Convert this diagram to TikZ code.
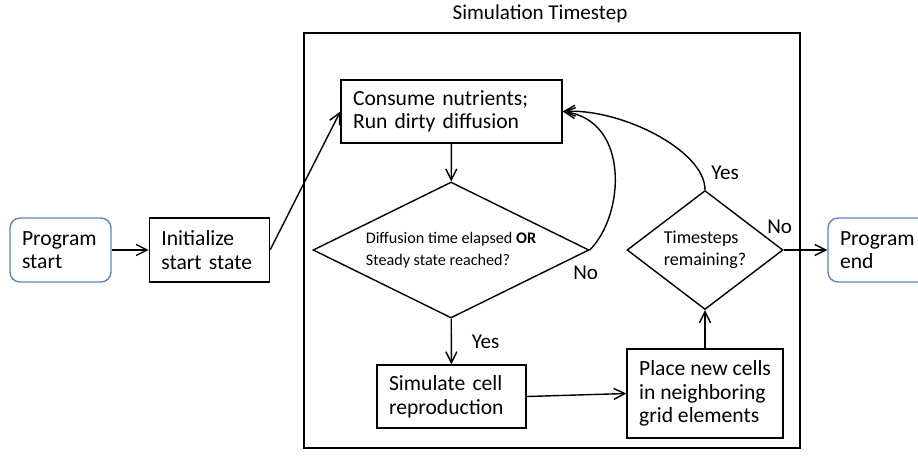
\documentclass[tikz,border=0pt]{standalone}
\usepackage{fontspec}
\setmainfont{Carlito}
\usetikzlibrary{shapes.geometric,positioning,calc,arrows.meta}
\definecolor{termblue}{RGB}{96,133,186}
\tikzset{BOX/.style={rectangle,draw,thick,align=left,inner xsep=0.24cm,inner ysep=0pt,font=\fontsize{12.3}{13.4}\selectfont}}
\tikzset{TERM/.style={BOX,draw=termblue,rounded corners=0.2cm,text width=1.54cm,minimum height=1.28cm}}
\tikzset{DECISION/.style={diamond,draw,thick,align=left,inner sep=0pt,font=\fontsize{9.2}{12.5}\selectfont}}
\tikzset{FRAME/.style={rectangle,draw,thick}}
\tikzset{LABEL/.style={font=\fontsize{12}{13.4}\selectfont}}
\tikzset{ARROW/.style={thick,-{Straight Barb[length=2.2mm,width=2.2mm]}}}

\begin{document}
\begin{tikzpicture}[x=0.02cm,y=-0.02cm]
\useasboundingbox (0,0) rectangle (918,458);

\node[FRAME,minimum width=9.92cm,minimum height=8.3cm] (n_frame) at (552,240.5) {};
\node[LABEL] (n_title) at (540,14) {Simulation Timestep};

\node[TERM] (n_start) at (60.5,250) {Program\\start};
\node[BOX,text width=1.92cm,minimum height=1.28cm,right=0.74cm of n_start] (n_init) {Initialize\\start state};

\node[BOX,text width=3.94cm,minimum height=1.26cm] (n_consume) at (451.5,111.5) {Consume nutrients;\\Run dirty diffusion};
\node[DECISION,aspect=2.03,minimum width=5.52cm,minimum height=2.72cm] (n_diff) at (451,250) {Diffusion time elapsed \textbf{OR}\\Steady state reached?};
\node[BOX,text width=2.5cm,minimum height=1.26cm] (n_sim) at (451.5,396.5) {Simulate cell\\reproduction};

\node[BOX,inner xsep=0.1cm,minimum width=3.12cm,minimum height=1.78cm] (n_place) at (705,393.5) {Place new cells\\in neighboring\\grid elements};
\node[DECISION,aspect=1.31,minimum width=3.12cm,minimum height=2.38cm,font=\fontsize{10.3}{12.5}\selectfont] (n_steps) at (705,250) {Timesteps\\remaining?};

\node[TERM] (n_end) at (878.5,250) {Program\\end};

\draw[ARROW] (n_start) -- (n_init);
\draw[ARROW] (n_init.east) -- (n_consume.west);
\draw[ARROW] (n_consume) -- (n_diff);
\draw[ARROW] (n_diff) -- (n_sim) node[LABEL,midway,right=0.28cm]{Yes};
\draw[ARROW] (n_sim.east) -- (n_place.west);
\draw[ARROW] (n_place) -- (n_steps);
\draw[ARROW] (n_steps.east) -- (n_end.west);

\draw[ARROW] (n_diff.east) .. controls (625,215) and (630,120) .. (n_consume.east);
\draw[ARROW] (n_steps.north) .. controls (705,150) and (620,108) .. (n_consume.east);

\node[LABEL] (n_no1) at ($(n_diff.east)+(-4,23)$) {No};
\node[LABEL] (n_yes2) at ($(n_steps.north)+(20,-17)$) {Yes};
\node[LABEL] (n_no2) at ($(n_steps.east)+(-4,-23)$) {No};

\end{tikzpicture}
\end{document}
